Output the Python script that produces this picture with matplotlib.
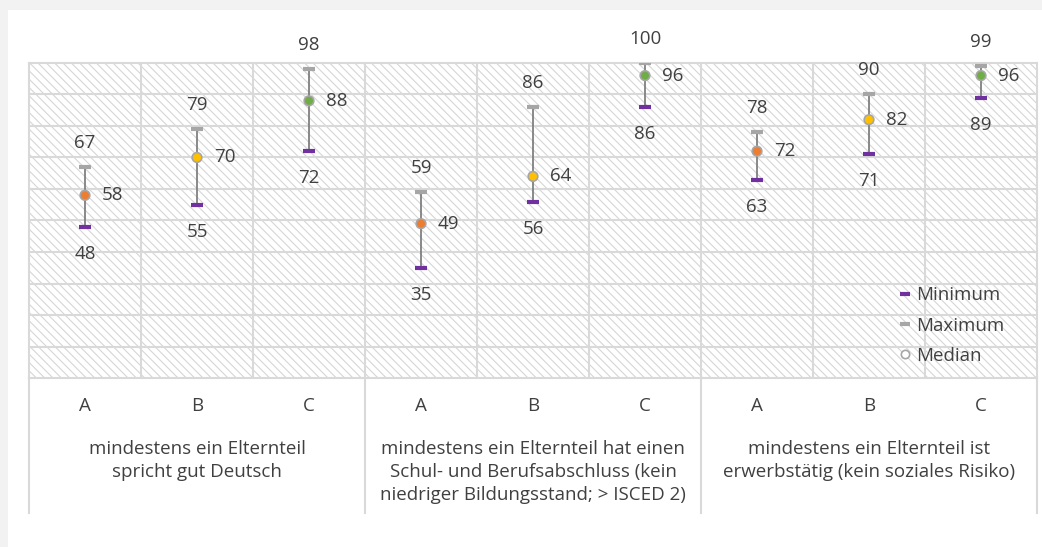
import matplotlib.pyplot as plt
from matplotlib.lines import Line2D
from matplotlib.patches import Rectangle
import matplotlib.transforms as mtransforms

# Data
categories = ['A', 'B', 'C', 'A', 'B', 'C', 'A', 'B', 'C']
groups = ['mindestens ein Elternteil\nspricht gut Deutsch',
          'mindestens ein Elternteil hat einen\nSchul- und Berufsabschluss (kein\nniedriger Bildungsstand; > ISCED 2)',
          'mindestens ein Elternteil ist\nerwerbstätig (kein soziales Risiko)']
minimum = [48, 55, 72, 35, 56, 86, 63, 71, 89]
maximum = [67, 79, 98, 59, 86, 100, 78, 90, 99]
median = [58, 70, 88, 49, 64, 96, 72, 82, 96]

med_colors = ['#ED7D31', '#FFC000', '#70AD47'] * 3
purple = '#7030A0'
gray_max = '#A6A6A6'
text_col = '#404040'
grid_col = '#D9D9D9'

plt.rcParams['font.family'] = ['Open Sans', 'DejaVu Sans']
plt.rcParams['hatch.color'] = '#D6D6D6'
plt.rcParams['hatch.linewidth'] = 0.8

fig = plt.figure(figsize=(10.42, 5.47), dpi=100, facecolor='#F2F2F2')
# white card
fig.patches.append(Rectangle((8 / 1042, 0), 1, (547 - 10) / 547, transform=fig.transFigure,
                             facecolor='white', edgecolor='none', zorder=-10))
ax = fig.add_axes([29 / 1042, (547 - 378) / 547, 1008 / 1042, 315 / 547])
ax.set_facecolor('white')

x = list(range(len(categories)))
ax.set_xlim(-0.5, len(categories) - 0.5)
ax.set_ylim(0, 100)

# hatched background
ax.add_patch(Rectangle((0, 0), 1, 1, transform=ax.transAxes, fill=False,
                       hatch='\\\\\\\\', edgecolor='#D6D6D6', linewidth=0, zorder=0))

# grid
for yv in range(10, 100, 10):
    ax.axhline(yv, color=grid_col, lw=1.5, zorder=1)
for xv in range(len(categories) - 1):
    ax.axvline(xv + 0.5, color=grid_col, lw=1.5, zorder=1)
for s in ax.spines.values():
    s.set_color(grid_col)
    s.set_linewidth(1.5)

# ranges
for i in x:
    ax.plot([i, i], [minimum[i], maximum[i]], color='#808080', lw=1.3, zorder=2)
ax.plot(x, minimum, linestyle='none', marker='_', markersize=8.5, markeredgewidth=3,
        color=purple, zorder=3)
ax.plot(x, maximum, linestyle='none', marker='_', markersize=8.5, markeredgewidth=3,
        color=gray_max, zorder=3)
ax.scatter(x, median, s=48, c=med_colors, edgecolors='#A6A6A6', linewidths=1.2, zorder=4)

fs = 13.5
for i in x:
    ax.annotate(str(maximum[i]), (i, maximum[i]), xytext=(0, 17.5), textcoords='offset points',
                ha='center', va='center', fontsize=fs, color=text_col)
    ax.annotate(str(minimum[i]), (i, minimum[i]), xytext=(0, -19.5), textcoords='offset points',
                ha='center', va='center', fontsize=fs, color=text_col)
    ax.annotate(str(median[i]), (i, median[i]), xytext=(12, 0), textcoords='offset points',
                ha='left', va='center', fontsize=fs, color=text_col)

ax.set_yticks([])
ax.set_xticks(x)
ax.set_xticklabels(categories, fontsize=fs, color=text_col)
ax.tick_params(axis='x', length=0, pad=14)

# group labels and separators below the axis
trans = mtransforms.blended_transform_factory(ax.transData, ax.transAxes)
for g, label in enumerate(groups):
    ax.text(3 * g + 1, -0.198, label, transform=trans, ha='center', va='top',
            fontsize=fs, color=text_col, linespacing=1.34)
for xv in [-0.5, 2.5, 5.5, 8.5]:
    ax.plot([xv, xv], [0, -0.43], transform=trans, color=grid_col, lw=1.5, clip_on=False)

handles = [
    Line2D([], [], linestyle='none', marker='_', markersize=7, markeredgewidth=3, color=purple),
    Line2D([], [], linestyle='none', marker='_', markersize=7, markeredgewidth=3, color=gray_max),
    Line2D([], [], linestyle='none', marker='o', markersize=6, markerfacecolor='white',
           markeredgecolor='#A6A6A6', markeredgewidth=1.2),
]
ax.legend(handles, ['Minimum', 'Maximum', 'Median'], loc='lower right',
          bbox_to_anchor=(0.981, 0.0), frameon=False, fontsize=fs, labelcolor=text_col,
          handlelength=0.6, handletextpad=0.3, labelspacing=0.65, borderaxespad=0.3)

fig.savefig('out.png', dpi=100, facecolor=fig.get_facecolor())
